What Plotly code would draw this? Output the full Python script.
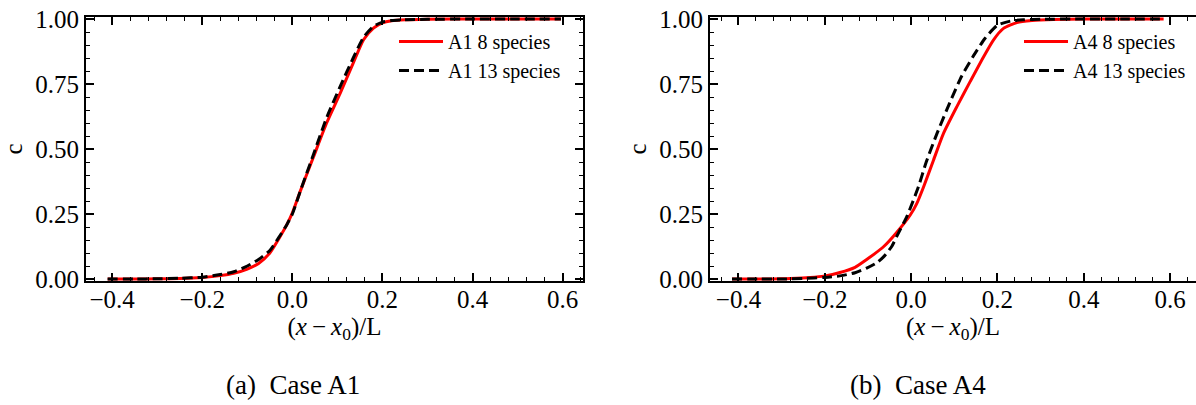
import plotly.graph_objects as go

# Progress variable profiles across the flame, normalised position (x - x0)/L
a1_8_x = [-0.41, -0.35, -0.30, -0.25, -0.20, -0.16, -0.13, -0.10, -0.075, -0.05, -0.03, -0.012, 0.0,
          0.017, 0.047, 0.076, 0.106, 0.135, 0.158, 0.18, 0.20, 0.22, 0.25, 0.30, 0.40, 0.50, 0.596]
a1_8_c = [0.0, 0.0, 0.001, 0.002, 0.006, 0.013, 0.022, 0.038, 0.060, 0.100, 0.155, 0.210, 0.255,
          0.335, 0.47, 0.60, 0.714, 0.83, 0.92, 0.965, 0.985, 0.993, 0.997, 0.999, 1.0, 1.0, 1.0]

a1_13_x = [-0.41, -0.35, -0.30, -0.25, -0.20, -0.16, -0.13, -0.10, -0.075, -0.05, -0.03, -0.012, 0.0,
           0.017, 0.047, 0.076, 0.106, 0.135, 0.158, 0.18, 0.20, 0.22, 0.25, 0.30, 0.40, 0.50, 0.596]
a1_13_c = [0.0, 0.0, 0.001, 0.003, 0.007, 0.017, 0.028, 0.050, 0.075, 0.110, 0.160, 0.210, 0.250,
           0.335, 0.48, 0.62, 0.74, 0.85, 0.93, 0.972, 0.988, 0.994, 0.997, 0.999, 1.0, 1.0, 1.0]

a4_8_x = [-0.415, -0.35, -0.30, -0.28, -0.234, -0.20, -0.165, -0.13, -0.103, -0.064, -0.033, -0.002,
          0.013, 0.029, 0.052, 0.075, 0.106, 0.137, 0.168, 0.191, 0.214, 0.245, 0.28, 0.33, 0.40, 0.50, 0.585]
a4_8_c = [0.0, 0.0, 0.001, 0.002, 0.006, 0.012, 0.025, 0.045, 0.075, 0.124, 0.18, 0.246,
          0.29, 0.355, 0.458, 0.56, 0.663, 0.76, 0.855, 0.92, 0.964, 0.986, 0.994, 0.998, 1.0, 1.0, 1.0]

a4_13_x = [-0.415, -0.35, -0.30, -0.25, -0.20, -0.165, -0.13, -0.103, -0.08, -0.064, -0.045, -0.033,
           -0.01, 0.017, 0.035, 0.06, 0.09, 0.117, 0.145, 0.171, 0.199, 0.23, 0.26, 0.30, 0.40, 0.50, 0.585]
a4_13_c = [0.0, 0.0, 0.0, 0.002, 0.006, 0.012, 0.024, 0.042, 0.062, 0.085, 0.125, 0.165,
           0.24, 0.355, 0.45, 0.56, 0.68, 0.78, 0.86, 0.925, 0.975, 0.992, 0.997, 0.999, 1.0, 1.0, 1.0]

captions = ["(a)\u2002Case A1", "(b)\u2002Case A4"]

SERIF = "Liberation Serif, Times New Roman, serif"
RED = "#ff0000"
BLACK = "#000000"

fig = go.Figure()

fig.add_trace(go.Scatter(x=a1_8_x, y=a1_8_c, mode="lines", name="A1 8 species",
                         line=dict(color=RED, width=3, shape="spline", smoothing=0.6),
                         xaxis="x", yaxis="y", legend="legend"))
fig.add_trace(go.Scatter(x=a1_13_x, y=a1_13_c, mode="lines", name="A1 13 species",
                         line=dict(color=BLACK, width=3, dash="10px,5px", shape="spline", smoothing=0.6),
                         xaxis="x", yaxis="y", legend="legend"))
fig.add_trace(go.Scatter(x=a4_8_x, y=a4_8_c, mode="lines", name="A4 8 species",
                         line=dict(color=RED, width=3, shape="spline", smoothing=0.6),
                         xaxis="x2", yaxis="y2", legend="legend2"))
fig.add_trace(go.Scatter(x=a4_13_x, y=a4_13_c, mode="lines", name="A4 13 species",
                         line=dict(color=BLACK, width=3, dash="10px,5px", shape="spline", smoothing=0.6),
                         xaxis="x2", yaxis="y2", legend="legend2"))

W, H = 1196, 405


def px_x(p):
    return p / W


def px_y(p):
    return 1 - p / H


tick_font = dict(family=SERIF, size=25, color="black")
title_font = dict(family=SERIF, size=25, color="black")

xaxis_common = dict(
    automargin=False,
    showline=True, linewidth=2, linecolor="black", mirror="ticks",
    ticks="inside", ticklen=8, tickwidth=1.6, tickcolor="black",
    dtick=0.2, tick0=0, tickformat=".1f", ticklabelstandoff=-5,
    minor=dict(ticks="inside", ticklen=4, tickwidth=1.4, tickcolor="black", dtick=0.04, tick0=0),
    showgrid=False, zeroline=False, tickfont=tick_font,
    title=dict(text="(<i>x</i>\u2009\u2212\u2009<i>x</i><sub>0</sub>)/L", font=title_font, standoff=4),
)
yaxis_common = dict(
    automargin=False,
    showline=True, linewidth=2, linecolor="black", mirror="ticks",
    ticks="inside", ticklen=8, tickwidth=1.6, tickcolor="black",
    range=[-0.0077, 1.0077], dtick=0.25, tick0=0, tickformat=".2f",
    minor=dict(ticks="inside", ticklen=4, tickwidth=1.4, tickcolor="black", dtick=0.05, tick0=0),
    showgrid=False, zeroline=False, tickfont=tick_font,
    title=dict(text="c", font=title_font, standoff=6),
)

y_dom = [px_y(281), px_y(17)]

legend_style = dict(xanchor="left", yanchor="top", bgcolor="rgba(0,0,0,0)", borderwidth=0,
                    font=dict(family=SERIF, size=20, color="black"), itemwidth=44)

fig.update_layout(
    width=W, height=H,
    margin=dict(l=0, r=0, t=0, b=0, autoexpand=False),
    paper_bgcolor="white", plot_bgcolor="white",
    font=dict(family=SERIF, color="black"),
    xaxis=dict(xaxis_common, domain=[px_x(86), px_x(583)], range=[-0.458, 0.645], anchor="y"),
    yaxis=dict(yaxis_common, domain=y_dom, anchor="x"),
    xaxis2=dict(xaxis_common, domain=[px_x(710), 1.0], range=[-0.466, 0.660], anchor="y2"),
    yaxis2=dict(yaxis_common, domain=y_dom, anchor="x2", mirror=False),
    legend=dict(legend_style, x=px_x(394), y=px_y(22)),
    legend2=dict(legend_style, x=px_x(1019), y=px_y(22)),
    showlegend=True,
)

for cap, cx in zip(captions, [293, 918]):
    fig.add_annotation(text=cap, xref="paper", yref="paper", x=px_x(cx), y=px_y(385),
                       xanchor="center", yanchor="middle", showarrow=False,
                       font=dict(family=SERIF, size=27, color="black"))

fig.write_html("out.html")
